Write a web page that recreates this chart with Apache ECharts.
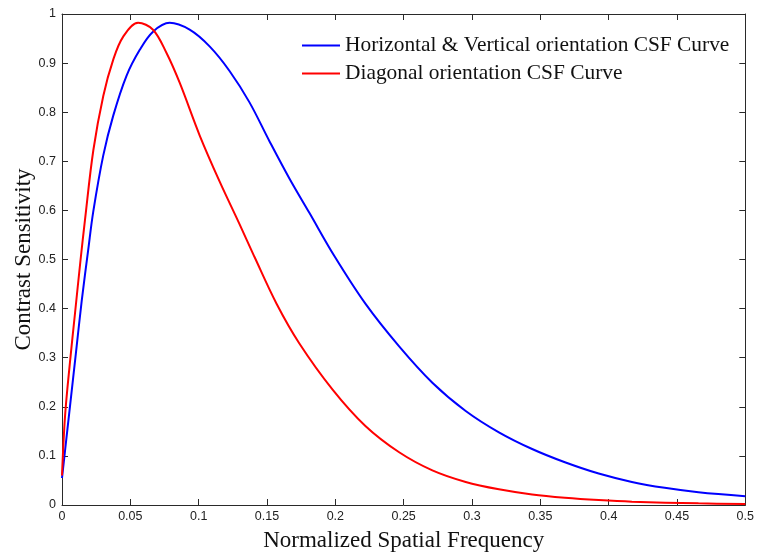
<!DOCTYPE html>
<html>
<head>
<meta charset="utf-8">
<script src="https://cdn.jsdelivr.net/npm/echarts@6/dist/echarts.min.js"></script>
<style>html,body{margin:0;padding:0;background:#fff;}#c{width:757px;height:557px;}</style>
</head>
<body>
<div id="c"></div>
<script>
var xTicks = [0, 0.05, 0.1, 0.15, 0.2, 0.25, 0.3, 0.35, 0.4, 0.45, 0.5];
var yTicks = [0, 0.1, 0.2, 0.3, 0.4, 0.5, 0.6, 0.7, 0.8, 0.9, 1];

var freqHV = [0, 0.0022, 0.0058, 0.0102, 0.0144, 0.0192, 0.0229, 0.0302, 0.0375, 0.0472, 0.0569, 0.0666, 0.0788, 0.0934, 0.108, 0.1226, 0.1372, 0.1518, 0.1664, 0.181, 0.1993, 0.222, 0.2467, 0.271, 0.2954, 0.3197, 0.344, 0.368, 0.3927, 0.417, 0.441, 0.4657, 0.5];
var csfHV  = [0.055, 0.11, 0.2, 0.31, 0.415, 0.52, 0.598, 0.712, 0.793, 0.874, 0.927, 0.964, 0.982, 0.968, 0.934, 0.884, 0.82, 0.741, 0.665, 0.595, 0.507, 0.41, 0.323, 0.249, 0.1915, 0.148, 0.114, 0.087, 0.064, 0.047, 0.035, 0.026, 0.018];

var freqDiag = [0, 0.0022, 0.0058, 0.0095, 0.0136, 0.0168, 0.0229, 0.0302, 0.0375, 0.0448, 0.0557, 0.0666, 0.0764, 0.0861, 0.1007, 0.1153, 0.1299, 0.1409, 0.157, 0.1737, 0.198, 0.222, 0.2467, 0.271, 0.2954, 0.3197, 0.344, 0.368, 0.3927, 0.417, 0.4657, 0.5];
var csfDiag  = [0.06, 0.18, 0.29, 0.39, 0.5, 0.58, 0.722, 0.833, 0.907, 0.954, 0.982, 0.968, 0.921, 0.86, 0.753, 0.659, 0.572, 0.505, 0.41, 0.329, 0.235, 0.161, 0.1075, 0.0706, 0.047, 0.032, 0.0215, 0.0148, 0.010, 0.0067, 0.0034, 0.002];

var seriesNames = ['Horizontal & Vertical orientation CSF Curve', 'Diagonal orientation CSF Curve'];
var seriesColors = ['#0000ff', '#ff0000'];

function pairs(xs, ys) { return xs.map(function (x, i) { return [x, ys[i]]; }); }

var chart = echarts.init(document.getElementById('c'), null, { renderer: 'canvas' });
var axisCol = '#2a2a2a';
var labelStyle = { color: '#222', fontFamily: 'Liberation Sans, Arial', fontSize: 12.5 };
var titleStyle = { color: '#111', fontFamily: 'Liberation Serif, Times New Roman', fontSize: 23 };

function baseX(pos, show) {
  return {
    type: 'value', position: pos, min: xTicks[0], max: xTicks[xTicks.length - 1], interval: 0.05,
    axisLine: { show: true, onZero: false, lineStyle: { color: axisCol, width: 1 } },
    axisTick: { show: true, inside: true, length: 6, lineStyle: { color: axisCol } },
    axisLabel: show ? Object.assign({ margin: 5, formatter: function (v) { return String(+v.toFixed(2)); } }, labelStyle) : { show: false },
    splitLine: { show: false }
  };
}
function baseY(pos, show) {
  return {
    type: 'value', position: pos, min: yTicks[0], max: yTicks[yTicks.length - 1], interval: 0.1,
    axisLine: { show: true, onZero: false, lineStyle: { color: axisCol, width: 1 } },
    axisTick: { show: true, inside: true, length: 6, lineStyle: { color: axisCol } },
    axisLabel: show ? Object.assign({ margin: 6, formatter: function (v) { return String(+v.toFixed(1)); } }, labelStyle) : { show: false },
    splitLine: { show: false }
  };
}

var xBottom = baseX('bottom', true);
xBottom.name = 'Normalized Spatial Frequency';
xBottom.nameLocation = 'middle';
xBottom.nameGap = 24;
xBottom.nameMoveOverlap = false;
xBottom.nameTextStyle = titleStyle;
var yLeft = baseY('left', true);
yLeft.name = 'Contrast Sensitivity';
yLeft.nameLocation = 'middle';
yLeft.nameGap = 27;
yLeft.nameMoveOverlap = false;
yLeft.nameTextStyle = titleStyle;

chart.setOption({
  animation: false,
  backgroundColor: '#fff',
  grid: { left: 62, right: 10, top: 14, bottom: 47, containLabel: false },
  legend: {
    orient: 'vertical', left: 302, top: 35, itemGap: 7, padding: 0,
    itemWidth: 38, itemHeight: 2,
    icon: 'rect',
    textStyle: { color: '#111', fontFamily: 'Liberation Serif, Times New Roman', fontSize: 21.4 },
    data: seriesNames
  },
  xAxis: [xBottom, baseX('top', false)],
  yAxis: [yLeft, baseY('right', false)],
  series: [
    { name: seriesNames[0], type: 'line', smooth: 0.35, showSymbol: false, data: pairs(freqHV, csfHV), lineStyle: { color: seriesColors[0], width: 2 }, itemStyle: { color: seriesColors[0] } },
    { name: seriesNames[1], type: 'line', smooth: 0.35, showSymbol: false, data: pairs(freqDiag, csfDiag), lineStyle: { color: seriesColors[1], width: 2 }, itemStyle: { color: seriesColors[1] } }
  ]
});
</script>
</body>
</html>
